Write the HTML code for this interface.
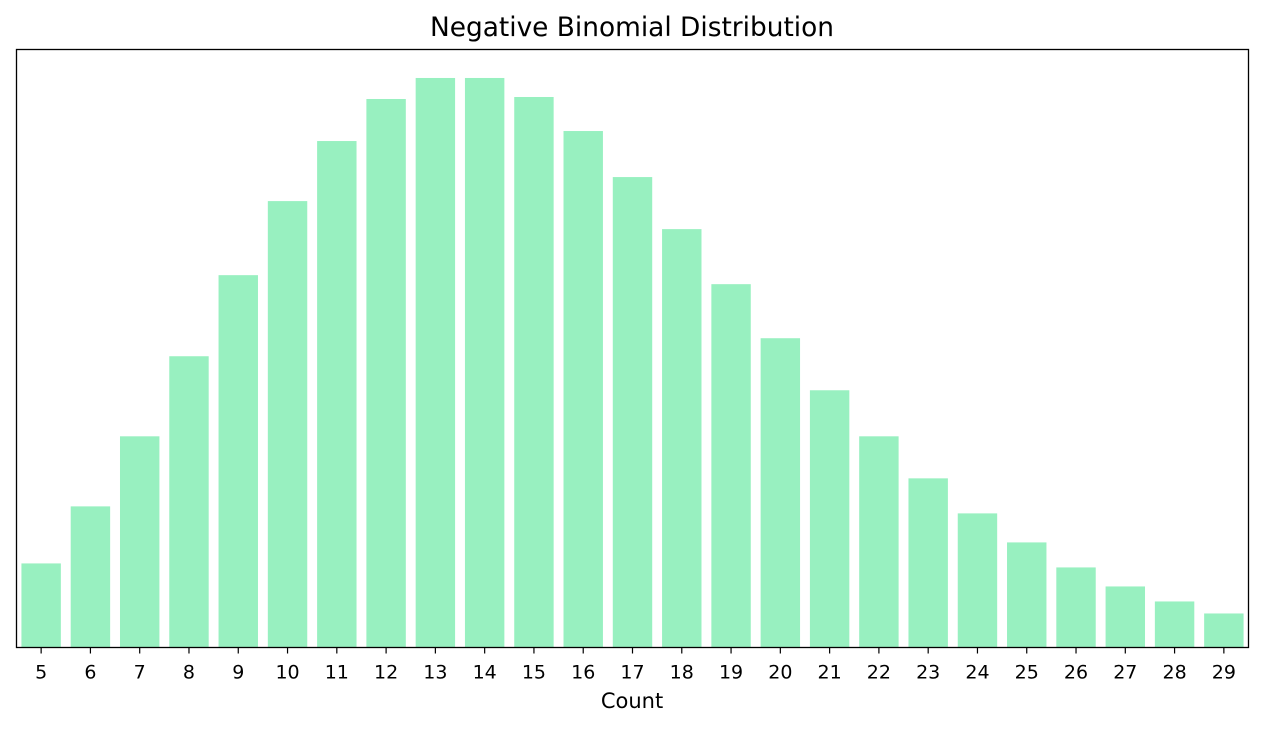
<!DOCTYPE html>
<html><head><meta charset="utf-8"><style>
body{margin:0;background:#fff;width:1264px;height:730px;overflow:hidden}
svg text{font-family:"DejaVu Sans","Liberation Sans",sans-serif;fill:#000}
</style></head><body>
<svg id="chart" width="1264" height="730" xmlns="http://www.w3.org/2000/svg">
<text x="632" y="36" font-size="26.4" text-anchor="middle">Negative Binomial Distribution</text>
<g id="bars"></g>
<g id="ticks"></g>
<rect x="16.5" y="49.5" width="1232" height="598" fill="none" stroke="#000" stroke-width="1.3"/>
<text x="632" y="708" font-size="21" text-anchor="middle">Count</text>
</svg>
<script>
const categories=[5,6,7,8,9,10,11,12,13,14,15,16,17,18,19,20,21,22,23,24,25,26,27,28,29];
const values=[84,141,211,291,372,446,506,548,569,569,550,516,470,418,363,309,257,211,169,134,105,80,61,46,34];
const L=16.5,R=1248.5,T=49.5,B=647.5;
const ymax=Math.max(...values)*1.05;
const slot=(R-L)/categories.length;
const xs=i=>L+slot*(i+0.5);
const ys=v=>B-(v/ymax)*(B-T);
const NS="http://www.w3.org/2000/svg";
const gb=document.getElementById('bars'),gt=document.getElementById('ticks');
categories.forEach((c,i)=>{
 const r=document.createElementNS(NS,'rect');
 const w=slot*0.8;
 r.setAttribute('x',xs(i)-w/2);r.setAttribute('width',w);
 r.setAttribute('y',ys(values[i]));r.setAttribute('height',B-ys(values[i]));
 r.setAttribute('fill','#98f0c0');
 
 
 gb.appendChild(r);
 const l=document.createElementNS(NS,'line');
 l.setAttribute('x1',xs(i));l.setAttribute('x2',xs(i));l.setAttribute('y1',B);l.setAttribute('y2',B+6);
 l.setAttribute('stroke','#000');l.setAttribute('stroke-width','1.2');
 
 
 gt.appendChild(l);
 const t=document.createElementNS(NS,'text');
 t.setAttribute('x',xs(i));t.setAttribute('y',B+31);t.setAttribute('font-size','19');t.setAttribute('text-anchor','middle');
 t.textContent=c;
 
 
 gt.appendChild(t);
});
</script>
</body></html>
